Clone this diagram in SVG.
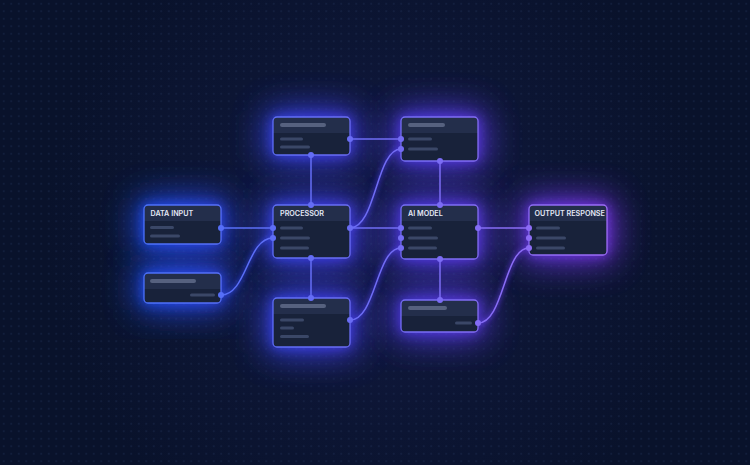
<svg xmlns="http://www.w3.org/2000/svg" width="750" height="465" viewBox="0 0 750 465">
<defs>
<pattern id="dots" width="7.5" height="7.5" patternUnits="userSpaceOnUse" x="0" y="0">
<circle cx="3.75" cy="3.75" r="0.6" fill="#22325a"/>
</pattern>
<radialGradient id="bgglow" cx="375" cy="232" r="330" gradientUnits="userSpaceOnUse">
<stop offset="0" stop-color="#131a44"/>
<stop offset="0.6" stop-color="#0c1533"/>
<stop offset="1" stop-color="#09122b"/>
</radialGradient>
<linearGradient id="edge" gradientUnits="userSpaceOnUse" x1="144" y1="0" x2="607" y2="0">
<stop offset="0" stop-color="#4a70fa"/>
<stop offset="0.45" stop-color="#6a6cf4"/>
<stop offset="1" stop-color="#9c6cf6"/>
</linearGradient>
<linearGradient id="glowg" gradientUnits="userSpaceOnUse" x1="144" y1="0" x2="607" y2="0">
<stop offset="0" stop-color="#2352ff"/>
<stop offset="0.5" stop-color="#4d3ff2"/>
<stop offset="1" stop-color="#7e38f0"/>
</linearGradient>
<filter id="blur" x="-80%" y="-120%" width="260%" height="340%">
<feGaussianBlur stdDeviation="17"/>
</filter>
<filter id="blur2" x="-40%" y="-60%" width="180%" height="220%">
<feGaussianBlur stdDeviation="6"/>
</filter>
<filter id="lblur" x="-20%" y="-20%" width="140%" height="140%">
<feGaussianBlur stdDeviation="2.5"/>
</filter>
<style>
.glow{fill:url(#glowg);stroke:url(#glowg);stroke-width:14;opacity:.85;filter:url(#blur)}
.glow2{fill:url(#glowg);stroke:url(#glowg);stroke-width:3;opacity:.7;filter:url(#blur2)}
.body{fill:#18223a}
.head{fill:#232e4b}
.border{fill:none;stroke:url(#edge);stroke-width:1.3}
.title{font-family:Inter,"Liberation Sans",sans-serif;font-size:7.2px;font-weight:600;fill:#e4e8f6}
.hbar{fill:#56617f}
.ln{fill:#3a4767}
.port{fill:url(#edge)}
.wire{fill:none;stroke:url(#edge);stroke-width:1.5}
.wireglow{fill:none;stroke:url(#glowg);stroke-width:4;opacity:.55;filter:url(#lblur)}
</style>
</defs>
<rect width="750" height="465" fill="url(#bgglow)"/>
<rect width="750" height="465" fill="url(#dots)"/>

<g id="glows">
<rect class="glow" x="144" y="205" width="77" height="39" rx="4"/>
<rect class="glow" x="144" y="273" width="77" height="30" rx="4"/>
<rect class="glow" x="273" y="117" width="77" height="38" rx="4"/>
<rect class="glow" x="273" y="205" width="77" height="53" rx="4"/>
<rect class="glow" x="273" y="298" width="77" height="49" rx="4"/>
<rect class="glow" x="401" y="117" width="77" height="44" rx="4"/>
<rect class="glow" x="401" y="205" width="77" height="54" rx="4"/>
<rect class="glow" x="401" y="300" width="77" height="32" rx="4"/>
<rect class="glow" x="529" y="205" width="78" height="50" rx="4"/>
<rect class="glow2" x="144" y="205" width="77" height="39" rx="4"/>
<rect class="glow2" x="144" y="273" width="77" height="30" rx="4"/>
<rect class="glow2" x="273" y="117" width="77" height="38" rx="4"/>
<rect class="glow2" x="273" y="205" width="77" height="53" rx="4"/>
<rect class="glow2" x="273" y="298" width="77" height="49" rx="4"/>
<rect class="glow2" x="401" y="117" width="77" height="44" rx="4"/>
<rect class="glow2" x="401" y="205" width="77" height="54" rx="4"/>
<rect class="glow2" x="401" y="300" width="77" height="32" rx="4"/>
<rect class="glow2" x="529" y="205" width="78" height="50" rx="4"/>
</g>

<g id="connectors">
<g>
<path class="wireglow" d="M221,228 H273"/>
<path class="wireglow" d="M221,295 C247,295 247,238 273,238"/>
<path class="wireglow" d="M311,155 V205"/>
<path class="wireglow" d="M350,139 H401"/>
<path class="wireglow" d="M350,228 C376,228 376,149 401,149"/>
<path class="wireglow" d="M350,228 H401"/>
<path class="wireglow" d="M311,258 V298"/>
<path class="wireglow" d="M350,320 C376,320 376,248 401,248"/>
<path class="wireglow" d="M440,161 V205"/>
<path class="wireglow" d="M440,259 V300"/>
<path class="wireglow" d="M478,228 H529"/>
<path class="wireglow" d="M478,323 C504,323 504,248 529,248"/>
</g>
<path class="wire" d="M221,228 H273"/>
<path class="wire" d="M221,295 C247,295 247,238 273,238"/>
<path class="wire" d="M311,155 V205"/>
<path class="wire" d="M350,139 H401"/>
<path class="wire" d="M350,228 C376,228 376,149 401,149"/>
<path class="wire" d="M350,228 H401"/>
<path class="wire" d="M311,258 V298"/>
<path class="wire" d="M350,320 C376,320 376,248 401,248"/>
<path class="wire" d="M440,161 V205"/>
<path class="wire" d="M440,259 V300"/>
<path class="wire" d="M478,228 H529"/>
<path class="wire" d="M478,323 C504,323 504,248 529,248"/>
</g>

<g id="data-input">
<rect class="body" x="144" y="205" width="77" height="39" rx="4"/>
<path class="head" d="M144,221 V209 a4,4 0 0 1 4,-4 H217 a4,4 0 0 1 4,4 V221 Z"/>
<rect class="border" x="144" y="205" width="77" height="39" rx="4"/>
<text class="title" x="150.5" y="216">DATA INPUT</text>
<rect class="ln" x="150" y="226" width="24" height="3" rx="1.5"/>
<rect class="ln" x="150" y="234.5" width="30" height="3" rx="1.5"/>
<circle class="port" cx="221" cy="228" r="3"/>
</g>

<g id="aux-input">
<rect class="body" x="144" y="273" width="77" height="30" rx="4"/>
<path class="head" d="M144,289 V277 a4,4 0 0 1 4,-4 H217 a4,4 0 0 1 4,4 V289 Z"/>
<rect class="border" x="144" y="273" width="77" height="30" rx="4"/>
<rect class="hbar" x="150" y="279" width="46" height="4" rx="2"/>
<rect class="ln" x="190" y="293.5" width="25" height="3" rx="1.5"/>
<circle class="port" cx="221" cy="295" r="3"/>
</g>

<g id="top-node">
<rect class="body" x="273" y="117" width="77" height="38" rx="4"/>
<path class="head" d="M273,133 V121 a4,4 0 0 1 4,-4 H346 a4,4 0 0 1 4,4 V133 Z"/>
<rect class="border" x="273" y="117" width="77" height="38" rx="4"/>
<rect class="hbar" x="280" y="123" width="46" height="4" rx="2"/>
<rect class="ln" x="280" y="137.5" width="23" height="3" rx="1.5"/>
<rect class="ln" x="280" y="145.5" width="30" height="3" rx="1.5"/>
<circle class="port" cx="350" cy="139" r="3"/>
<circle class="port" cx="311" cy="155" r="3"/>
</g>

<g id="processor">
<rect class="body" x="273" y="205" width="77" height="53" rx="4"/>
<path class="head" d="M273,221 V209 a4,4 0 0 1 4,-4 H346 a4,4 0 0 1 4,4 V221 Z"/>
<rect class="border" x="273" y="205" width="77" height="53" rx="4"/>
<text class="title" x="280" y="216">PROCESSOR</text>
<rect class="ln" x="280" y="226.5" width="23" height="3" rx="1.5"/>
<rect class="ln" x="280" y="236.5" width="30" height="3" rx="1.5"/>
<rect class="ln" x="280" y="246.5" width="29" height="3" rx="1.5"/>
<circle class="port" cx="273" cy="228" r="3"/>
<circle class="port" cx="273" cy="238" r="3"/>
<circle class="port" cx="350" cy="228" r="3"/>
<circle class="port" cx="311" cy="205" r="3"/>
<circle class="port" cx="311" cy="258" r="3"/>
</g>

<g id="bottom-node">
<rect class="body" x="273" y="298" width="77" height="49" rx="4"/>
<path class="head" d="M273,314 V302 a4,4 0 0 1 4,-4 H346 a4,4 0 0 1 4,4 V314 Z"/>
<rect class="border" x="273" y="298" width="77" height="49" rx="4"/>
<rect class="hbar" x="280" y="304" width="46" height="4" rx="2"/>
<rect class="ln" x="280" y="318.5" width="24" height="3" rx="1.5"/>
<rect class="ln" x="280" y="326.5" width="14" height="3" rx="1.5"/>
<rect class="ln" x="280" y="335" width="29" height="3" rx="1.5"/>
<circle class="port" cx="311" cy="298" r="3"/>
<circle class="port" cx="350" cy="320" r="3"/>
</g>

<g id="top-right-node">
<rect class="body" x="401" y="117" width="77" height="44" rx="4"/>
<path class="head" d="M401,133 V121 a4,4 0 0 1 4,-4 H474 a4,4 0 0 1 4,4 V133 Z"/>
<rect class="border" x="401" y="117" width="77" height="44" rx="4"/>
<rect class="hbar" x="408" y="123" width="37" height="4" rx="2"/>
<rect class="ln" x="408" y="137.5" width="24" height="3" rx="1.5"/>
<rect class="ln" x="408" y="147.5" width="30" height="3" rx="1.5"/>
<circle class="port" cx="401" cy="139" r="3"/>
<circle class="port" cx="401" cy="149" r="3"/>
<circle class="port" cx="440" cy="161" r="3"/>
</g>

<g id="ai-model">
<rect class="body" x="401" y="205" width="77" height="54" rx="4"/>
<path class="head" d="M401,221 V209 a4,4 0 0 1 4,-4 H474 a4,4 0 0 1 4,4 V221 Z"/>
<rect class="border" x="401" y="205" width="77" height="54" rx="4"/>
<text class="title" x="408" y="216">AI MODEL</text>
<rect class="ln" x="408" y="226.5" width="24" height="3" rx="1.5"/>
<rect class="ln" x="408" y="236.5" width="30" height="3" rx="1.5"/>
<rect class="ln" x="408" y="246.5" width="29" height="3" rx="1.5"/>
<circle class="port" cx="401" cy="228" r="3"/>
<circle class="port" cx="401" cy="238" r="3"/>
<circle class="port" cx="401" cy="248" r="3"/>
<circle class="port" cx="478" cy="228" r="3"/>
<circle class="port" cx="440" cy="205" r="3"/>
<circle class="port" cx="440" cy="259" r="3"/>
</g>

<g id="bottom-right-node">
<rect class="body" x="401" y="300" width="77" height="32" rx="4"/>
<path class="head" d="M401,316 V304 a4,4 0 0 1 4,-4 H474 a4,4 0 0 1 4,4 V316 Z"/>
<rect class="border" x="401" y="300" width="77" height="32" rx="4"/>
<rect class="hbar" x="408" y="306" width="39" height="4" rx="2"/>
<rect class="ln" x="455" y="321.5" width="17" height="3" rx="1.5"/>
<circle class="port" cx="440" cy="300" r="3"/>
<circle class="port" cx="478" cy="323" r="3"/>
</g>

<g id="output-response">
<rect class="body" x="529" y="205" width="78" height="50" rx="4"/>
<path class="head" d="M529,221 V209 a4,4 0 0 1 4,-4 H603 a4,4 0 0 1 4,4 V221 Z"/>
<rect class="border" x="529" y="205" width="78" height="50" rx="4"/>
<text class="title" x="534.5" y="216">OUTPUT RESPONSE</text>
<rect class="ln" x="536" y="226.5" width="24" height="3" rx="1.5"/>
<rect class="ln" x="536" y="236.5" width="30" height="3" rx="1.5"/>
<rect class="ln" x="536" y="246.5" width="29" height="3" rx="1.5"/>
<circle class="port" cx="529" cy="228" r="3"/>
<circle class="port" cx="529" cy="238" r="3"/>
<circle class="port" cx="529" cy="248" r="3"/>
</g>
</svg>
